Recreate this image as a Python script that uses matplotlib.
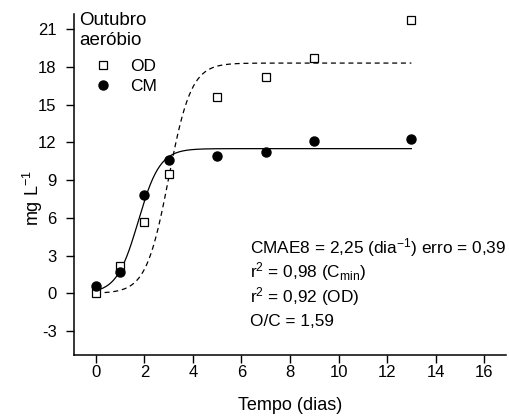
import numpy as np
import matplotlib
matplotlib.use("Agg")
import matplotlib.pyplot as plt

plt.rcParams['font.family'] = ['Liberation Sans', 'DejaVu Sans']
plt.rcParams['mathtext.fontset'] = 'custom'
plt.rcParams['mathtext.rm'] = 'Liberation Sans'
plt.rcParams['mathtext.it'] = 'Liberation Sans'
plt.rcParams['axes.unicode_minus'] = False

# Data
days = [0, 1, 2, 3, 5, 7, 9, 13]
od = [0.0, 2.2, 5.7, 9.5, 15.6, 17.2, 18.7, 21.7]
cm = [0.6, 1.7, 7.8, 10.6, 10.9, 11.2, 12.1, 12.3]

# Fitted logistic model parameters
cm_fit = dict(A=11.5, k=2.25, x0=1.75)
od_fit = dict(A=18.3, k=2.15, x0=3.0)
fit_range = (0, 13)

def logistic(x, A, k, x0):
    return A / (1 + np.exp(-k * (x - x0)))

xticks = [0, 2, 4, 6, 8, 10, 12, 14, 16]
yticks = [-3, 0, 3, 6, 9, 12, 15, 18, 21]

W, H = 510, 420
fig = plt.figure(figsize=(5.1, 4.2), dpi=100)
ax = fig.add_axes([74 / W, 1 - 355 / H, 432 / W, 341 / H])

xf = np.linspace(fit_range[0], fit_range[1], 400)
ax.plot(xf, logistic(xf, **cm_fit), color='black', lw=0.9)
ax.plot(xf, logistic(xf, **od_fit), color='black', lw=0.9, ls=(0, (4, 3)))

ax.plot(days, od, ls='none', marker='s', ms=6, mfc='white', mec='black', mew=0.9, label='OD')
ax.plot(days, cm, ls='none', marker='o', ms=6.5, mfc='black', mec='black', label='CM')

ax.set_xlim(-0.9, 16.9)
ax.set_ylim(-4.9, 22.2)
ax.set_xticks(xticks)
ax.set_yticks(yticks)
ax.tick_params(direction='out', length=5.5, width=1, labelsize=12)
ax.tick_params(axis='x', pad=2)
ax.tick_params(axis='y', pad=7)
for s in ['top', 'right']:
    ax.spines[s].set_visible(False)
for s in ['left', 'bottom']:
    ax.spines[s].set_linewidth(1.1)

ax.set_xlabel('Tempo (dias)', fontsize=13)
ax.xaxis.set_label_coords(0.5, -0.123)
ax.set_ylabel('mg L$^{-1}$', fontsize=13)
ax.yaxis.set_label_coords(-0.067, 0.46)

# legend title
fig.text(79 / W, 1 - 12 / H, 'Outubro\naeróbio', fontsize=13.5, va='top', ha='left',
         linespacing=1.2)
fs_leg = 12.5
fs_px = fs_leg * 100 / 72
leg = ax.legend(loc='upper left', frameon=False, fontsize=fs_leg,
                handlelength=1.0, handletextpad=(130 - 103 - fs_px / 2) / fs_px,
                borderaxespad=0.0, borderpad=0.0, labelspacing=0.28,
                bbox_to_anchor=((103 - fs_px / 2) / W, 1 - 59 / H),
                bbox_transform=fig.transFigure)

ann = [
    'CMAE8 = 2,25 (dia$^{-1}$) erro = 0,39',
    'r$^{2}$ = 0,98 (C$_{\\mathregular{min}}$)',
    'r$^{2}$ = 0,92 (OD)',
    'O/C = 1,59',
]
ys = [248, 272, 297, 321]
for t, yp in zip(ann, ys):
    fig.text(250 / W, 1 - yp / H, t, fontsize=12.4,
             va='center', ha='left')

fig.savefig('out.png', dpi=100)
